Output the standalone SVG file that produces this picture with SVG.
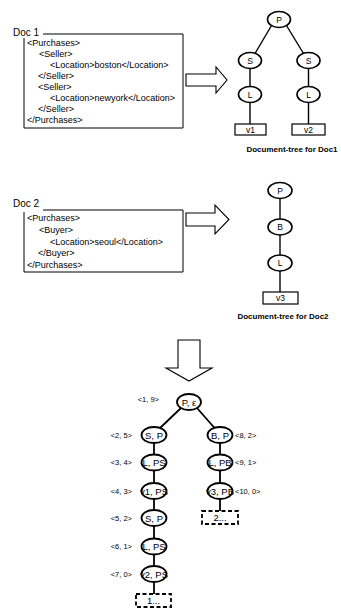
<svg xmlns="http://www.w3.org/2000/svg" width="341" height="609" viewBox="0 0 341 609">
<style>
text{font-family:"Liberation Sans",Arial,sans-serif;fill:#000}
.doc{font-size:9px}
.ttl{font-size:10px}
.cap{font-size:8px;font-weight:bold;text-anchor:middle}
.nl{font-size:8.5px;text-anchor:middle}
.bn{font-size:9.5px;text-anchor:middle}
.lab{font-size:7.5px}
.labr{font-size:7.5px;text-anchor:end}
.frame{fill:none;stroke:#000;stroke-width:1}
.el{fill:#fff;stroke:#000;stroke-width:1.6}
.bel{fill:#fff;stroke:#000;stroke-width:1.8}
.box{fill:#fff;stroke:#000;stroke-width:1.2}
.dbox{fill:#fff;stroke:#000;stroke-width:1.8;stroke-dasharray:4 2.5}
.ln{stroke:#000;stroke-width:1.4;fill:none}
.bln{stroke:#000;stroke-width:1.8;fill:none}
.arr{fill:#fff;stroke:#000;stroke-width:1.1}
</style>
<rect width="341" height="609" fill="#fff"/>

<g id="doc1">
<text class="ttl" x="13" y="36">Doc 1</text>
<path class="frame" d="M43,34 H183 V128 H24 V38"/>
<text class="doc" x="27" y="46">&lt;Purchases&gt;</text>
<text class="doc" x="39" y="57">&lt;Seller&gt;</text>
<text class="doc" x="50" y="68">&lt;Location&gt;boston&lt;/Location&gt;</text>
<text class="doc" x="38" y="79">&lt;/Seller&gt;</text>
<text class="doc" x="38" y="90">&lt;Seller&gt;</text>
<text class="doc" x="50" y="101">&lt;Location&gt;newyork&lt;/Location&gt;</text>
<text class="doc" x="38" y="112">&lt;/Seller&gt;</text>
<text class="doc" x="27" y="123">&lt;/Purchases&gt;</text>
</g>

<g id="doc2">
<text class="ttl" x="13" y="207">Doc 2</text>
<path class="frame" d="M43,210 H183 V272 H24 V212"/>
<text class="doc" x="27" y="221">&lt;Purchases&gt;</text>
<text class="doc" x="39" y="233">&lt;Buyer&gt;</text>
<text class="doc" x="50" y="245">&lt;Location&gt;seoul&lt;/Location&gt;</text>
<text class="doc" x="38" y="256">&lt;/Buyer&gt;</text>
<text class="doc" x="27" y="268">&lt;/Purchases&gt;</text>
</g>

<g id="arrows">
<path class="arr" d="M186,74 H216 V67 L227,80 L216,93 V86 H186 Z"/>
<path class="arr" d="M186,213 H215 V205 L229,219.5 L215,234 V226 H186 Z"/>
<path class="arr" d="M178,340 H200 V368 H212 L189,381 L166,368 H178 Z"/>
</g>

<g id="connectors">
<line class="ln" x1="271.5" y1="25.5" x2="255" y2="53.5"/>
<line class="ln" x1="286.5" y1="25.5" x2="303.5" y2="53.5"/>
<line class="ln" x1="250" y1="68" x2="250" y2="87"/>
<line class="ln" x1="308.5" y1="68" x2="308.5" y2="87"/>
<line class="ln" x1="250" y1="102" x2="250" y2="124"/>
<line class="ln" x1="308.5" y1="102" x2="308.5" y2="124"/>
<line class="ln" x1="280" y1="198" x2="280" y2="220"/>
<line class="ln" x1="280" y1="234" x2="280" y2="256"/>
<line class="ln" x1="280" y1="270" x2="280" y2="292"/>
<line class="bln" x1="181" y1="408" x2="159.5" y2="428.5"/>
<line class="bln" x1="197" y1="408" x2="215" y2="428.5"/>
<line class="bln" x1="154" y1="442" x2="154" y2="455"/>
<line class="bln" x1="154" y1="470" x2="154" y2="483"/>
<line class="bln" x1="154" y1="499" x2="154" y2="510"/>
<line class="bln" x1="154" y1="526" x2="154" y2="539"/>
<line class="bln" x1="154" y1="554" x2="154" y2="566"/>
<line class="bln" x1="154" y1="582" x2="154" y2="594"/>
<line class="bln" x1="220" y1="442" x2="220" y2="455"/>
<line class="bln" x1="220" y1="470" x2="220" y2="483"/>
<line class="bln" x1="220" y1="499" x2="220" y2="511"/>
</g>

<g id="t1-P"><ellipse class="el" cx="279" cy="19.5" rx="11.5" ry="8"/><text class="nl" x="279" y="22.5">P</text></g>
<g id="t1-S1"><ellipse class="el" cx="250" cy="60.5" rx="11.5" ry="8"/><text class="nl" x="250" y="63.5">S</text></g>
<g id="t1-S2"><ellipse class="el" cx="308.5" cy="60.5" rx="11.5" ry="8"/><text class="nl" x="308.5" y="63.5">S</text></g>
<g id="t1-L1"><ellipse class="el" cx="250" cy="94.5" rx="11.5" ry="8"/><text class="nl" x="250" y="97.5">L</text></g>
<g id="t1-L2"><ellipse class="el" cx="308.5" cy="94.5" rx="11.5" ry="8"/><text class="nl" x="308.5" y="97.5">L</text></g>
<g id="t1-v1"><rect class="box" x="235" y="124" width="31" height="11"/><text class="nl" x="250.5" y="132.5">v1</text></g>
<g id="t1-v2"><rect class="box" x="292" y="124" width="33" height="11"/><text class="nl" x="308.5" y="132.5">v2</text></g>
<text class="cap" x="292" y="152">Document-tree for Doc1</text>

<g id="t2-P"><ellipse class="el" cx="280" cy="190.5" rx="12" ry="8"/><text class="nl" x="280" y="193.5">P</text></g>
<g id="t2-B"><ellipse class="el" cx="280" cy="227" rx="12" ry="8"/><text class="nl" x="280" y="230">B</text></g>
<g id="t2-L"><ellipse class="el" cx="280" cy="263" rx="12" ry="8"/><text class="nl" x="280" y="266">L</text></g>
<g id="t2-v3"><rect class="box" x="263" y="292" width="35" height="12"/><text class="nl" x="280.5" y="301">v3</text></g>
<text class="cap" x="283" y="319">Document-tree for Doc2</text>

<g id="n-root"><ellipse class="bel" cx="189" cy="402" rx="12" ry="8"/><text class="bn" x="189" y="405.5">P, ε</text><text class="labr" x="159" y="402">&lt;1, 9&gt;</text></g>
<g id="n-S1"><ellipse class="bel" cx="154" cy="435" rx="12.5" ry="8"/><text class="bn" x="154" y="438.5">S, P</text><text class="labr" x="132" y="437.5">&lt;2, 5&gt;</text></g>
<g id="n-L1"><ellipse class="bel" cx="154" cy="462.5" rx="12.5" ry="8"/><text class="bn" x="154" y="466">L, PS</text><text class="labr" x="132" y="465">&lt;3, 4&gt;</text></g>
<g id="n-v1"><ellipse class="bel" cx="154" cy="491" rx="12.5" ry="8"/><text class="bn" x="154" y="494.5">v1, PS</text><text class="labr" x="132" y="493.5">&lt;4, 3&gt;</text></g>
<g id="n-S2"><ellipse class="bel" cx="154" cy="518" rx="12.5" ry="8"/><text class="bn" x="154" y="521.5">S, P</text><text class="labr" x="132" y="520.5">&lt;5, 2&gt;</text></g>
<g id="n-L2"><ellipse class="bel" cx="154" cy="546.5" rx="12.5" ry="8"/><text class="bn" x="154" y="550">L, PS</text><text class="labr" x="132" y="549">&lt;6, 1&gt;</text></g>
<g id="n-v2"><ellipse class="bel" cx="154" cy="574" rx="12.5" ry="8"/><text class="bn" x="154" y="577.5">v2, PS</text><text class="labr" x="132" y="576.5">&lt;7, 0&gt;</text></g>
<g id="n-d1"><rect class="dbox" x="136" y="594" width="35" height="13"/><text class="bn" x="153.5" y="604">1...</text></g>
<g id="n-B"><ellipse class="bel" cx="220" cy="435" rx="12.5" ry="8"/><text class="bn" x="220" y="438.5">B, P</text><text class="lab" x="235" y="437.5">&lt;8, 2&gt;</text></g>
<g id="n-L3"><ellipse class="bel" cx="220" cy="462.5" rx="12.5" ry="8"/><text class="bn" x="220" y="466">L, PB</text><text class="lab" x="235" y="465">&lt;9, 1&gt;</text></g>
<g id="n-v3"><ellipse class="bel" cx="220" cy="491" rx="12.5" ry="8"/><text class="bn" x="220" y="494.5">v3, PB</text><text class="lab" x="235" y="493.5">&lt;10, 0&gt;</text></g>
<g id="n-d2"><rect class="dbox" x="202" y="511" width="36" height="13"/><text class="bn" x="220" y="521">2...</text></g>
</svg>
